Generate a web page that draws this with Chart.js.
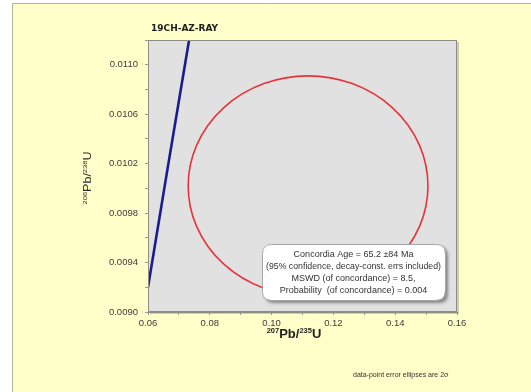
<!DOCTYPE html>
<html>
<head>
<meta charset="utf-8">
<script src="https://cdn.jsdelivr.net/npm/chart.js@4.4.1/dist/chart.umd.min.js"></script>
<style>
  html, body { margin: 0; padding: 0; background: #ffffff; }
  #wrap { width: 531px; height: 392px; position: relative; }
</style>
</head>
<body>
<div id="wrap"><canvas id="c" width="531" height="392"></canvas></div>
<script>
// Sample name
const sampleName = '19CH-AZ-RAY';

// Concordia curve (207Pb/235U, 206Pb/238U)
const concordiaX = [0.0600, 0.0666, 0.0733];
const concordiaY = [0.00920, 0.01020, 0.01120];

// Data-point error ellipse: centre and half-widths (x, y)
const ellipseCenter = [0.1118, 0.01002];
const ellipseHalfAxes = [0.0388, 0.00089];

// Axis ranges and tick steps
const xRange = [0.06, 0.16];
const yRange = [0.0090, 0.0112];
const xStep = 0.01;
const yStep = 0.0002;

// Result box text
const resultLines = [
  'Concordia Age = 65.2 \u00b184 Ma',
  '(95% confidence, decay-const. errs included)',
  'MSWD (of concordance) = 8.5,',
  'Probability  (of concordance) = 0.004'
];
const footnote = 'data-point error ellipses are 2\u03c3';

const FONT = '"Liberation Sans", Arial, sans-serif';

// Draws text made of normal and superscript parts, centred on x
function drawRich(ctx, parts, cx, baseY, size, supSize, weight, color) {
  ctx.save();
  ctx.fillStyle = color;
  ctx.textBaseline = 'alphabetic';
  ctx.textAlign = 'left';
  let total = 0;
  const widths = parts.map(p => {
    ctx.font = weight + ' ' + (p.sup ? supSize : size) + 'px ' + FONT;
    const w = ctx.measureText(p.t).width;
    total += w;
    return w;
  });
  let x = cx - total / 2;
  parts.forEach((p, i) => {
    ctx.font = weight + ' ' + (p.sup ? supSize : size) + 'px ' + FONT;
    ctx.fillText(p.t, x, p.sup ? baseY - size * 0.42 : baseY);
    x += widths[i];
  });
  ctx.restore();
  return total;
}

function roundRect(ctx, x, y, w, h, r) {
  ctx.beginPath();
  ctx.moveTo(x + r, y);
  ctx.lineTo(x + w - r, y);
  ctx.quadraticCurveTo(x + w, y, x + w, y + r);
  ctx.lineTo(x + w, y + h - r);
  ctx.quadraticCurveTo(x + w, y + h, x + w - r, y + h);
  ctx.lineTo(x + r, y + h);
  ctx.quadraticCurveTo(x, y + h, x, y + h - r);
  ctx.lineTo(x, y + r);
  ctx.quadraticCurveTo(x, y, x + r, y);
  ctx.closePath();
}

const decorations = {
  id: 'decorations',
  beforeDraw(chart) {
    const ctx = chart.ctx;
    const a = chart.chartArea;
    ctx.save();
    ctx.fillStyle = '#ffffff';
    ctx.fillRect(0, 0, chart.width, chart.height);
    // page frame
    ctx.fillStyle = '#ffffc9';
    ctx.fillRect(12, 3, chart.width - 12, chart.height - 3);
    ctx.strokeStyle = '#b4b49a';
    ctx.lineWidth = 1;
    ctx.beginPath();
    ctx.moveTo(12.5, chart.height);
    ctx.lineTo(12.5, 3.5);
    ctx.lineTo(chart.width, 3.5);
    ctx.stroke();
    // plot shadow and fill
    ctx.fillStyle = 'rgba(120,120,100,0.35)';
    ctx.fillRect(a.left + 2, a.top + 2, a.right - a.left, a.bottom - a.top);
    ctx.fillStyle = '#e1e1e1';
    ctx.fillRect(a.left, a.top, a.right - a.left, a.bottom - a.top);
    ctx.restore();
  },
  afterDatasetsDraw(chart) {
    const ctx = chart.ctx;
    const a = chart.chartArea;
    const xs = chart.scales.x, ys = chart.scales.y;

    // error ellipse
    const cx = xs.getPixelForValue(ellipseCenter[0]);
    const cy = ys.getPixelForValue(ellipseCenter[1]);
    const rx = Math.abs(xs.getPixelForValue(ellipseCenter[0] + ellipseHalfAxes[0]) - cx);
    const ry = Math.abs(ys.getPixelForValue(ellipseCenter[1] + ellipseHalfAxes[1]) - cy);
    ctx.save();
    ctx.beginPath();
    ctx.rect(a.left, a.top, a.right - a.left, a.bottom - a.top);
    ctx.clip();
    ctx.strokeStyle = '#e8333a';
    ctx.lineWidth = 1.6;
    ctx.beginPath();
    ctx.ellipse(cx, cy, rx, ry, 0, 0, Math.PI * 2);
    ctx.stroke();
    ctx.restore();

    // plot border
    ctx.save();
    ctx.strokeStyle = '#8e8e84';
    ctx.lineWidth = 1;
    ctx.strokeRect(a.left + 0.5, a.top + 0.5, a.right - a.left - 1, a.bottom - a.top - 1);
    ctx.restore();

    // result box
    const bx = 262, by = 244, bw = 183, bh = 56;
    ctx.save();
    ctx.shadowColor = 'rgba(60,60,60,0.55)';
    ctx.shadowBlur = 3;
    ctx.shadowOffsetX = 3;
    ctx.shadowOffsetY = 3;
    roundRect(ctx, bx, by, bw, bh, 9);
    ctx.fillStyle = '#ffffff';
    ctx.fill();
    ctx.restore();
    ctx.save();
    roundRect(ctx, bx + 0.5, by + 0.5, bw, bh, 9);
    ctx.strokeStyle = '#a6a6a6';
    ctx.lineWidth = 1;
    ctx.stroke();
    ctx.fillStyle = '#333333';
    ctx.font = '9px ' + FONT;
    ctx.textAlign = 'center';
    ctx.textBaseline = 'middle';
    const lineY = [255, 267, 279, 291];
    resultLines.forEach((t, i) => ctx.fillText(t, bx + bw / 2, lineY[i], bw - 8));
    ctx.restore();
  },
  afterDraw(chart) {
    const ctx = chart.ctx;
    const a = chart.chartArea;
    // sample title
    ctx.save();
    ctx.fillStyle = '#1e1e1e';
    ctx.font = 'bold 9px "DejaVu Sans", Verdana, sans-serif';
    ctx.textAlign = 'left';
    ctx.textBaseline = 'middle';
    ctx.fillText(sampleName, a.left + 3, 29);
    ctx.restore();

    // x axis title
    drawRich(ctx, [
      { t: '207', sup: true }, { t: 'Pb/' }, { t: '235', sup: true }, { t: 'U' }
    ], 294, 338, 13, 7.5, 'bold', '#222222');

    // y axis title (rotated)
    ctx.save();
    ctx.translate(91, 178);
    ctx.rotate(-Math.PI / 2);
    ctx.scale(1.25, 1);
    drawRich(ctx, [
      { t: '206', sup: true }, { t: 'Pb/' }, { t: '238', sup: true }, { t: 'U' }
    ], 0, 0, 10, 6, 'normal', '#2a2a2a');
    ctx.restore();

    // footnote
    ctx.save();
    ctx.fillStyle = '#333333';
    ctx.font = '7px ' + FONT;
    ctx.textAlign = 'left';
    ctx.textBaseline = 'middle';
    ctx.fillText(footnote, 353, 375);
    ctx.restore();
  }
};

new Chart(document.getElementById('c'), {
  type: 'scatter',
  data: {
    datasets: [{
      label: 'Concordia',
      data: concordiaX.map((x, i) => ({ x: x, y: concordiaY[i] })),
      showLine: true,
      borderColor: '#1b1b8e',
      borderWidth: 2.6,
      pointRadius: 0,
      fill: false
    }]
  },
  options: {
    responsive: false,
    animation: false,
    devicePixelRatio: 1,
    layout: { padding: { left: 0, top: 40, right: 74, bottom: 0 } },
    plugins: {
      legend: { display: false },
      tooltip: { enabled: false },
      title: { display: false }
    },
    scales: {
      x: {
        type: 'linear',
        min: xRange[0],
        max: xRange[1],
        border: { display: true, color: '#8e8e84' },
        grid: { drawOnChartArea: false, tickLength: 3, color: '#999990' },
        ticks: {
          stepSize: xStep,
          autoSkip: false,
          maxRotation: 0,
          padding: 3,
          color: '#3c3c3c',
          font: { family: FONT, size: 9.5 },
          callback: (v, i) => (i % 2 === 0 ? v.toFixed(2) : '')
        },
        afterFit(scale) { scale.height = 80; }
      },
      y: {
        type: 'linear',
        min: yRange[0],
        max: yRange[1],
        border: { display: true, color: '#8e8e84' },
        grid: { drawOnChartArea: false, tickLength: 3, color: '#999990' },
        ticks: {
          stepSize: yStep,
          autoSkip: false,
          padding: 7,
          color: '#3c3c3c',
          font: { family: FONT, size: 9.5 },
          callback: (v, i) => (i % 2 === 0 ? v.toFixed(4) : '')
        },
        afterFit(scale) { scale.width = 148; }
      }
    }
  },
  plugins: [decorations]
});
</script>
</body>
</html>
